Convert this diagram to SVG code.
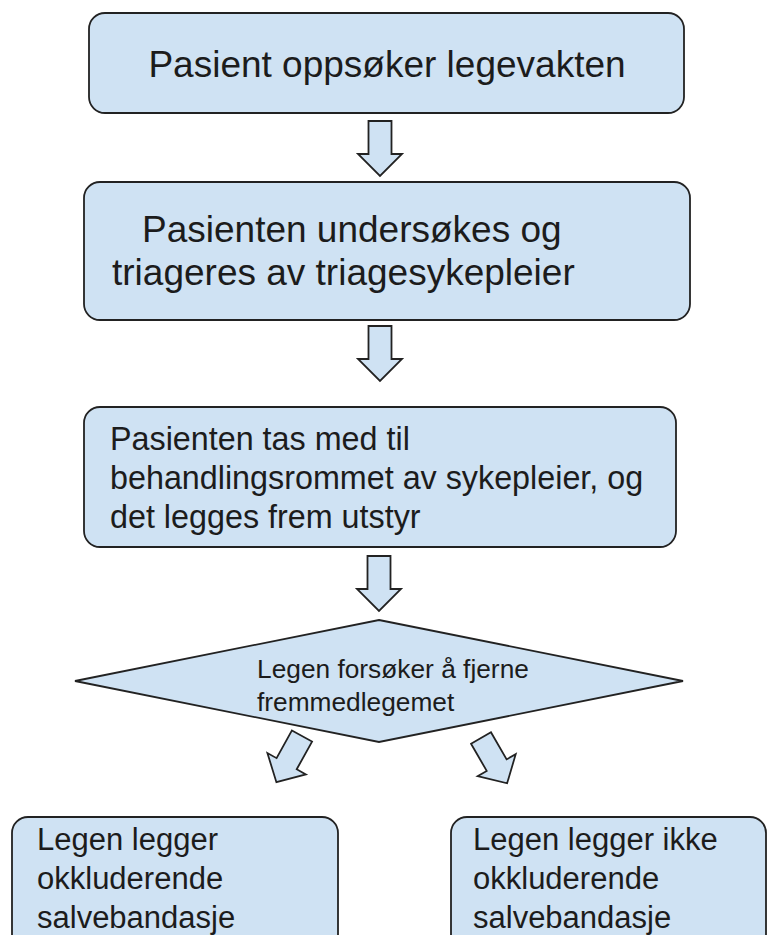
<svg xmlns="http://www.w3.org/2000/svg" width="768" height="935" viewBox="0 0 768 935">
<defs>
<style>
.box{fill:#cfe2f3;stroke:#222;stroke-width:1.8}
.arr{fill:#cfe2f3;stroke:#222;stroke-width:1.8;stroke-linejoin:miter}
.t{font-family:"Liberation Sans",Arial,sans-serif;fill:#1c1c1c}
.t37{font-size:37px}
.t32{font-size:32.3px}
.t31{font-size:31px}
.t25{font-size:26.3px}
</style>
<polygon id="downArrow" class="arr" points="-11.5,0 11.5,0 11.5,33 22,33 0,55 -22,33 -11.5,33"/>
</defs>
<rect width="768" height="935" fill="#ffffff"/>

<g id="connectors">
<use href="#downArrow" transform="translate(380,121)"/>
<use href="#downArrow" transform="translate(380,326)"/>
<use href="#downArrow" transform="translate(379,556)"/>
<use href="#downArrow" transform="translate(302,736) rotate(29) scale(1,0.96)"/>
<use href="#downArrow" transform="translate(481,738) rotate(-30) scale(1,0.95)"/>
</g>

<g id="node1">
<rect class="box" x="89" y="13" width="595" height="100" rx="16" ry="16"/>
<text class="t t37" x="387" y="77" text-anchor="middle">Pasient oppsøker legevakten</text>
</g>

<g id="node2">
<rect class="box" x="84" y="182" width="606" height="138" rx="16" ry="16"/>
<text class="t t37"><tspan x="142" y="242">Pasienten undersøkes og</tspan><tspan x="112" y="285">triageres av triagesykepleier</tspan></text>
</g>

<g id="node3">
<rect class="box" x="84" y="407" width="592" height="140" rx="16" ry="16"/>
<text class="t t32"><tspan x="110" y="450">Pasienten tas med til</tspan><tspan x="110" y="489">behandlingsrommet av sykepleier, og</tspan><tspan x="110" y="528">det legges frem utstyr</tspan></text>
</g>

<g id="node4">
<polygon class="box" points="379,620 683,681 379,742 75,681"/>
<text class="t t25"><tspan x="257" y="678">Legen forsøker å fjerne</tspan><tspan x="257" y="711">fremmedlegemet</tspan></text>
</g>

<g id="node5">
<rect class="box" x="12" y="817" width="326" height="140" rx="16" ry="16"/>
<text class="t t31"><tspan x="37" y="850">Legen legger</tspan><tspan x="37" y="889">okkluderende</tspan><tspan x="37" y="928">salvebandasje</tspan></text>
</g>

<g id="node6">
<rect class="box" x="451" y="817" width="315" height="140" rx="16" ry="16"/>
<text class="t t31"><tspan x="473" y="850">Legen legger ikke</tspan><tspan x="473" y="889">okkluderende</tspan><tspan x="473" y="928">salvebandasje</tspan></text>
</g>
</svg>
